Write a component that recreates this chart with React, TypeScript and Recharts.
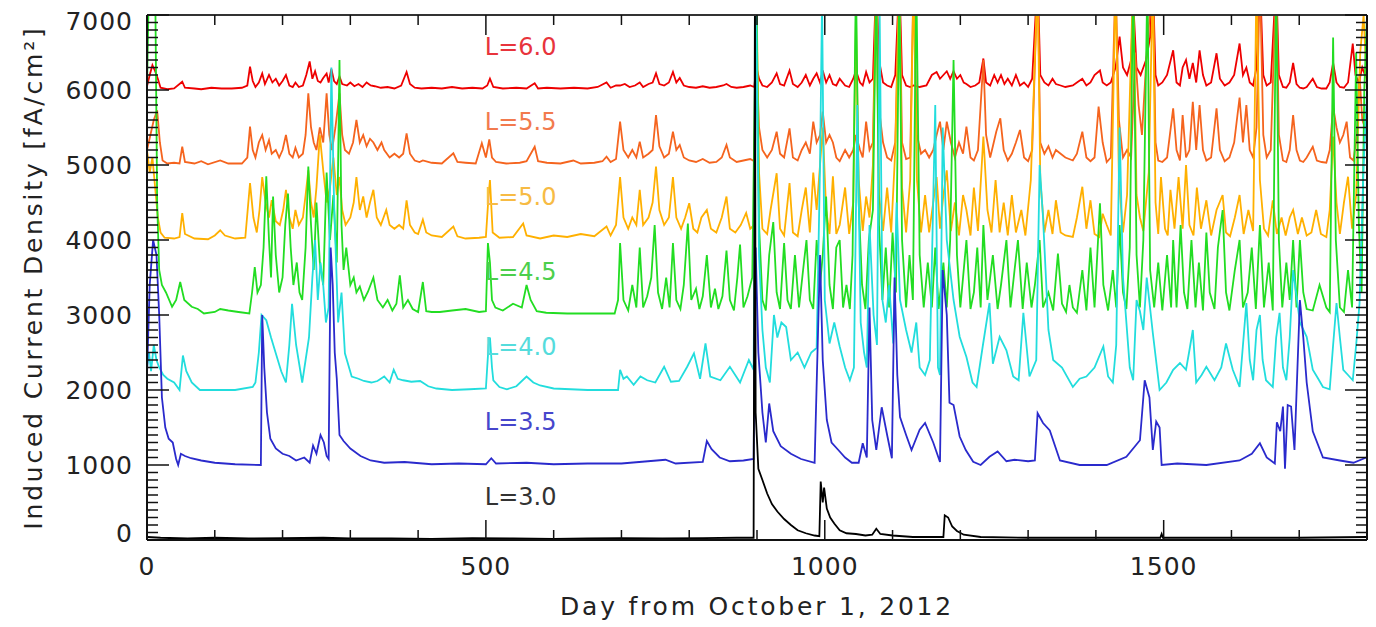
import React from 'react';
import { LineChart, Line, XAxis, YAxis, ReferenceDot, Label } from 'recharts';

// [day, induced current density], one list per L shell (no offset)
const l60: [number, number][] = [[0,50],[4,200],[8,330],[12,250],[16,150],[20,30],[30,10],[40,20],[52,110],[56,30],[70,20],[80,10],[95,30],[110,20],[125,20],[140,30],[148,60],[152,311],[156,120],[160,40],[165,100],[170,220],[174,80],[180,200],[185,100],[190,150],[195,60],[200,120],[205,200],[210,60],[215,40],[219,100],[224,40],[230,60],[235,200],[240,380],[244,150],[248,250],[252,120],[256,100],[260,160],[265,220],[268,100],[272,280],[276,120],[280,80],[284,180],[288,80],[295,60],[300,100],[306,50],[312,80],[318,40],[324,100],[330,60],[336,50],[345,30],[355,40],[365,20],[375,60],[383,240],[388,80],[395,30],[405,20],[420,30],[435,20],[450,40],[465,20],[480,30],[495,20],[502,60],[506,150],[511,40],[525,20],[545,30],[560,20],[572,90],[577,20],[590,30],[610,20],[630,30],[650,20],[665,40],[678,100],[684,30],[692,60],[698,60],[705,80],[712,40],[720,60],[727,100],[732,40],[740,80],[746,100],[751,222],[756,80],[763,60],[770,100],[776,240],[781,100],[786,160],[792,60],[800,40],[810,30],[820,50],[830,30],[840,40],[850,60],[855,80],[862,40],[870,30],[880,40],[890,60],[896,40],[899,311],[903,150],[908,60],[915,40],[922,100],[929,222],[934,80],[940,60],[948,260],[953,80],[960,40],[966,100],[972,200],[978,60],[983,150],[988,222],[993,100],[997,260],[1002,100],[1007,200],[1012,80],[1017,60],[1022,150],[1030,60],[1036,40],[1042,150],[1046,260],[1052,100],[1056,60],[1061,240],[1066,100],[1071,150],[1076,1500],[1080,400],[1086,100],[1092,60],[1098,40],[1104,200],[1110,1500],[1114,200],[1120,60],[1126,40],[1131,60],[1140,40],[1150,60],[1158,200],[1165,240],[1170,150],[1175,200],[1180,250],[1185,150],[1190,250],[1195,150],[1200,200],[1205,100],[1209,80],[1215,40],[1222,60],[1228,100],[1234,420],[1238,100],[1244,60],[1250,200],[1255,100],[1260,200],[1265,80],[1270,150],[1276,60],[1282,200],[1288,60],[1294,100],[1300,40],[1306,150],[1314,1500],[1318,200],[1324,100],[1330,60],[1336,150],[1341,80],[1348,60],[1355,40],[1366,60],[1372,100],[1380,150],[1386,60],[1392,100],[1398,200],[1406,260],[1410,100],[1416,60],[1422,100],[1429,300],[1435,711],[1440,300],[1446,200],[1452,400],[1455,1200],[1460,300],[1466,200],[1474,400],[1480,700],[1484,1500],[1488,200],[1492,60],[1498,100],[1505,200],[1514,530],[1519,100],[1524,60],[1528,300],[1533,400],[1538,150],[1543,360],[1548,100],[1553,530],[1558,200],[1563,60],[1570,100],[1578,490],[1583,150],[1590,60],[1597,100],[1604,200],[1612,620],[1617,200],[1622,300],[1627,100],[1632,60],[1637,300],[1642,1500],[1647,200],[1652,60],[1658,100],[1666,1500],[1670,200],[1676,40],[1681,30],[1686,100],[1691,360],[1696,80],[1701,30],[1706,20],[1711,40],[1720,150],[1726,40],[1733,20],[1740,20],[1745,100],[1750,360],[1755,100],[1760,40],[1766,30],[1772,100],[1779,620],[1783,200],[1788,100],[1793,300],[1797,200],[1800,360]];

const l55: [number, number][] = [[0,200],[5,400],[10,600],[15,730],[19,300],[23,60],[30,20],[40,30],[48,20],[52,244],[56,40],[70,20],[80,50],[90,10],[108,60],[120,20],[140,20],[148,100],[152,511],[156,200],[160,100],[165,300],[170,400],[175,200],[180,330],[184,150],[190,200],[195,100],[200,200],[205,400],[210,150],[215,100],[219,230],[224,100],[230,150],[234,400],[238,956],[242,500],[246,300],[250,200],[255,500],[260,300],[265,956],[269,400],[273,200],[278,500],[284,956],[288,400],[292,200],[298,150],[304,300],[309,600],[314,300],[319,400],[324,250],[329,350],[334,300],[340,200],[346,300],[350,200],[358,100],[365,150],[372,100],[378,150],[383,422],[388,150],[395,60],[402,40],[407,60],[420,30],[435,20],[452,156],[458,40],[470,30],[485,20],[494,290],[500,100],[505,340],[509,100],[515,40],[530,20],[550,30],[560,50],[572,244],[577,50],[590,30],[610,20],[629,60],[640,20],[660,30],[672,50],[678,110],[684,40],[692,80],[698,578],[703,200],[710,100],[716,200],[722,100],[727,311],[732,100],[740,150],[746,200],[751,667],[756,250],[763,100],[770,150],[776,444],[781,200],[786,267],[792,100],[800,60],[810,40],[820,80],[830,30],[840,40],[848,100],[855,267],[860,100],[870,40],[880,60],[890,80],[896,50],[899,1500],[903,500],[908,200],[915,100],[922,200],[929,444],[934,150],[940,100],[948,489],[953,100],[960,60],[966,200],[972,300],[978,150],[983,578],[988,300],[993,400],[997,711],[1002,300],[1007,400],[1012,300],[1017,100],[1022,50],[1030,200],[1036,100],[1042,200],[1046,400],[1052,200],[1056,100],[1061,578],[1066,200],[1071,300],[1076,2500],[1080,756],[1086,300],[1092,100],[1098,60],[1104,300],[1110,2500],[1114,300],[1120,80],[1126,100],[1131,2500],[1136,400],[1142,150],[1148,200],[1154,100],[1160,200],[1165,400],[1170,578],[1175,200],[1180,578],[1186,300],[1192,100],[1198,300],[1204,150],[1209,511],[1215,100],[1220,60],[1226,200],[1234,1400],[1238,400],[1244,100],[1248,250],[1253,444],[1259,622],[1264,200],[1270,60],[1276,150],[1282,300],[1288,467],[1294,100],[1300,50],[1306,200],[1314,2500],[1318,300],[1324,150],[1330,250],[1336,100],[1341,200],[1348,150],[1355,100],[1366,60],[1372,150],[1380,444],[1386,100],[1392,50],[1398,100],[1404,778],[1410,300],[1416,40],[1422,100],[1429,2500],[1434,600],[1440,100],[1446,200],[1452,100],[1458,1500],[1463,800],[1468,400],[1475,1500],[1484,2500],[1488,300],[1492,60],[1498,40],[1505,100],[1514,756],[1519,200],[1524,60],[1528,667],[1533,100],[1538,200],[1543,844],[1548,200],[1553,800],[1558,200],[1563,60],[1570,100],[1578,756],[1583,200],[1590,50],[1597,100],[1604,300],[1612,900],[1617,300],[1622,800],[1627,200],[1632,100],[1637,500],[1642,2500],[1647,400],[1652,100],[1658,200],[1666,2500],[1670,400],[1676,60],[1681,40],[1686,200],[1691,667],[1696,200],[1701,60],[1706,40],[1711,100],[1720,244],[1726,60],[1733,40],[1740,30],[1745,200],[1750,778],[1755,500],[1760,300],[1765,400],[1770,578],[1775,100],[1780,60],[1785,400],[1789,1200],[1793,600],[1797,500],[1800,300]];

const l50: [number, number][] = [[0,1200],[4,900],[8,1100],[12,700],[16,300],[20,100],[26,30],[40,20],[48,40],[52,360],[56,80],[70,20],[90,10],[100,60],[108,130],[115,60],[130,20],[145,30],[152,760],[157,300],[162,100],[166,400],[170,840],[175,500],[180,300],[184,530],[190,250],[196,200],[201,400],[205,670],[210,300],[215,150],[219,400],[224,200],[230,300],[234,600],[238,930],[242,500],[246,300],[250,700],[255,1400],[260,930],[265,500],[270,700],[275,1100],[280,600],[284,840],[288,400],[293,200],[300,300],[305,500],[309,840],[314,400],[319,580],[324,300],[329,500],[334,670],[339,300],[345,200],[353,400],[358,200],[365,150],[372,200],[378,150],[383,530],[388,200],[395,100],[400,80],[407,270],[412,100],[420,60],[435,40],[452,180],[458,50],[470,20],[490,30],[500,40],[504,600],[506,800],[510,100],[520,30],[540,40],[555,220],[560,60],[580,20],[600,60],[620,40],[640,80],[660,50],[678,180],[684,60],[692,200],[698,840],[703,300],[710,150],[716,300],[722,200],[727,670],[732,200],[740,300],[746,500],[751,980],[756,400],[763,200],[770,300],[776,840],[781,300],[788,150],[794,300],[800,490],[806,150],[812,100],[818,300],[826,400],[832,150],[840,100],[848,300],[855,580],[860,150],[868,100],[876,200],[884,360],[890,150],[896,200],[899,3500],[903,900],[908,150],[915,80],[920,400],[929,890],[934,150],[940,60],[948,760],[953,100],[960,50],[966,400],[972,700],[978,100],[983,900],[988,400],[993,1000],[997,1500],[1002,400],[1007,80],[1012,850],[1017,80],[1022,200],[1030,700],[1036,80],[1042,500],[1046,3000],[1050,800],[1056,120],[1061,580],[1066,300],[1071,1000],[1076,3500],[1080,600],[1086,120],[1092,700],[1098,100],[1104,1200],[1110,3500],[1114,700],[1120,100],[1126,800],[1131,3500],[1136,800],[1142,100],[1148,600],[1154,100],[1160,500],[1165,840],[1170,150],[1175,600],[1180,930],[1186,120],[1192,500],[1198,60],[1204,600],[1209,400],[1215,60],[1220,700],[1226,120],[1234,1380],[1240,400],[1246,100],[1252,800],[1258,100],[1264,500],[1270,60],[1276,600],[1282,100],[1290,400],[1296,60],[1304,800],[1314,3500],[1318,800],[1324,100],[1330,400],[1336,80],[1341,530],[1348,100],[1355,60],[1366,40],[1372,300],[1380,710],[1386,150],[1392,530],[1398,80],[1405,40],[1410,350],[1416,200],[1422,60],[1429,3500],[1434,800],[1440,100],[1446,600],[1455,3500],[1460,600],[1465,300],[1470,120],[1478,900],[1484,3500],[1488,500],[1492,80],[1496,840],[1502,150],[1506,60],[1510,670],[1516,150],[1522,840],[1528,150],[1533,1000],[1538,200],[1544,60],[1549,700],[1555,150],[1563,530],[1570,60],[1578,400],[1587,600],[1592,100],[1598,50],[1605,300],[1612,600],[1618,80],[1625,400],[1632,120],[1637,3500],[1642,800],[1648,150],[1654,60],[1661,530],[1667,80],[1674,300],[1680,60],[1686,300],[1691,400],[1698,80],[1704,300],[1711,60],[1718,100],[1725,400],[1732,80],[1740,40],[1745,400],[1750,1380],[1755,500],[1760,80],[1766,500],[1772,844],[1778,150],[1784,600],[1790,2500],[1795,3000],[1800,2000]];

const l45: [number, number][] = [[0,3000],[3,4500],[12,4500],[15,1500],[18,600],[22,400],[28,300],[37,110],[43,200],[49,440],[55,200],[66,110],[75,80],[84,20],[100,40],[108,80],[120,60],[135,40],[151,20],[155,300],[159,640],[163,300],[168,400],[172,900],[176,1850],[180,1000],[183,500],[186,1580],[190,800],[195,300],[200,500],[204,1200],[208,1620],[212,900],[216,400],[221,700],[225,300],[229,200],[234,900],[238,1980],[242,1200],[246,600],[250,1500],[255,700],[260,400],[265,1900],[270,1000],[275,1600],[280,700],[284,3400],[287,1200],[290,600],[294,900],[300,400],[305,500],[309,300],[314,380],[320,200],[326,310],[334,500],[340,200],[348,100],[355,200],[362,60],[368,150],[373,530],[378,100],[385,200],[392,80],[400,40],[407,440],[412,50],[420,40],[432,40],[450,60],[470,80],[490,40],[500,50],[503,960],[506,700],[509,200],[514,100],[525,60],[540,150],[553,100],[560,400],[566,200],[575,50],[589,30],[620,20],[660,20],[690,20],[695,200],[698,960],[703,200],[710,60],[716,400],[722,100],[727,900],[732,100],[738,250],[744,500],[749,1200],[754,300],[760,80],[766,500],[771,100],[776,960],[781,200],[787,80],[792,400],[798,1220],[803,200],[810,350],[815,80],[820,250],[826,800],[832,100],[838,350],[843,80],[849,250],[855,860],[860,200],[866,60],[871,500],[875,940],[880,100],[886,250],[893,500],[899,4500],[903,1200],[908,200],[913,60],[918,800],[924,1240],[929,300],[934,80],[940,960],[945,200],[950,80],[956,800],[962,100],[968,600],[973,1000],[978,200],[983,80],[988,1000],[993,400],[997,800],[1002,1580],[1007,400],[1012,80],[1017,900],[1022,1000],[1027,100],[1032,400],[1037,80],[1041,800],[1046,4500],[1050,1500],[1055,400],[1060,80],[1065,1000],[1071,1400],[1076,4500],[1080,1200],[1085,200],[1090,900],[1095,100],[1100,1100],[1105,300],[1110,4500],[1114,1000],[1120,100],[1125,800],[1130,200],[1135,4500],[1140,800],[1146,100],[1152,700],[1158,100],[1163,900],[1168,80],[1175,700],[1180,100],[1185,1000],[1190,3400],[1195,800],[1200,100],[1205,600],[1209,1000],[1215,80],[1220,300],[1225,900],[1230,100],[1234,1200],[1240,200],[1248,800],[1255,80],[1260,400],[1268,1000],[1274,100],[1280,600],[1285,1000],[1292,80],[1298,700],[1305,100],[1310,400],[1317,1000],[1322,100],[1330,300],[1337,60],[1344,820],[1350,150],[1356,40],[1361,400],[1366,100],[1372,30],[1380,600],[1386,60],[1392,900],[1398,100],[1406,1490],[1411,400],[1418,60],[1425,600],[1430,100],[1435,1200],[1440,300],[1445,80],[1450,900],[1455,4500],[1460,800],[1465,100],[1470,1000],[1476,4500],[1480,600],[1486,100],[1492,700],[1498,60],[1505,800],[1511,100],[1514,1000],[1519,100],[1525,1200],[1530,300],[1535,80],[1541,1000],[1547,100],[1552,700],[1558,60],[1563,1100],[1568,300],[1575,80],[1580,900],[1587,1400],[1592,300],[1597,60],[1605,600],[1612,1000],[1617,100],[1624,300],[1630,900],[1636,80],[1642,1200],[1648,100],[1655,700],[1661,60],[1666,4500],[1670,1000],[1675,100],[1681,700],[1686,200],[1691,1000],[1696,100],[1701,1000],[1706,300],[1711,80],[1720,60],[1730,400],[1740,100],[1745,40],[1750,3700],[1754,1000],[1760,100],[1766,40],[1772,600],[1778,100],[1784,3500],[1788,1200],[1792,300],[1796,3000],[1800,4000]];

const l40: [number, number][] = [[0,300],[3,500],[6,250],[10,600],[14,400],[18,300],[24,200],[30,150],[40,100],[48,0],[53,460],[58,250],[66,100],[78,0],[100,0],[130,0],[156,40],[160,100],[165,500],[169,1000],[176,930],[183,700],[190,490],[198,250],[205,100],[210,600],[214,1150],[220,600],[229,100],[234,400],[239,700],[244,1500],[248,2000],[252,1200],[256,1700],[260,1400],[264,900],[268,1100],[272,4300],[276,2500],[282,900],[287,1300],[292,490],[302,180],[312,150],[320,120],[331,100],[340,120],[350,180],[358,100],[364,270],[370,150],[378,130],[390,110],[403,120],[415,50],[427,20],[450,0],[476,10],[500,20],[504,600],[506,700],[509,300],[511,130],[520,40],[531,10],[545,50],[560,180],[570,100],[580,60],[600,20],[650,0],[695,0],[698,270],[703,150],[708,180],[718,70],[728,180],[738,130],[750,100],[763,310],[773,110],[785,120],[797,310],[807,490],[816,150],[824,620],[831,180],[846,130],[860,310],[875,100],[888,400],[895,270],[899,5000],[903,1800],[908,800],[913,300],[919,100],[925,1000],[930,700],[936,900],[943,840],[950,400],[960,500],[970,300],[980,500],[988,560],[993,3000],[996,5200],[1000,1200],[1007,620],[1014,900],[1022,580],[1030,300],[1037,130],[1043,300],[1048,3800],[1053,900],[1058,500],[1062,300],[1066,2200],[1072,1000],[1077,600],[1081,5000],[1085,1200],[1090,900],[1095,1400],[1101,620],[1106,2500],[1111,1200],[1120,800],[1128,500],[1135,900],[1140,300],[1148,200],[1155,400],[1163,3800],[1167,300],[1170,200],[1174,3500],[1180,2000],[1190,1200],[1199,710],[1209,440],[1218,100],[1224,40],[1233,580],[1243,1160],[1248,350],[1258,710],[1268,530],[1278,180],[1286,130],[1293,1030],[1302,180],[1312,400],[1317,3000],[1322,2300],[1330,800],[1337,400],[1350,300],[1366,40],[1376,150],[1386,180],[1398,300],[1411,580],[1418,180],[1425,100],[1430,600],[1435,3500],[1440,1500],[1445,900],[1450,300],[1455,130],[1460,1200],[1465,1050],[1470,800],[1475,1500],[1484,760],[1494,0],[1504,100],[1514,270],[1524,360],[1533,270],[1538,530],[1543,800],[1548,100],[1556,200],[1563,310],[1575,130],[1585,300],[1592,620],[1602,270],[1612,40],[1617,600],[1622,1160],[1627,400],[1632,130],[1637,800],[1642,1000],[1646,400],[1651,130],[1661,40],[1666,700],[1671,1030],[1676,300],[1681,130],[1686,700],[1691,1600],[1701,900],[1711,710],[1720,270],[1728,150],[1735,40],[1745,10],[1750,600],[1755,1160],[1760,700],[1765,270],[1772,200],[1779,130],[1784,600],[1789,1160],[1795,3000],[1800,4000]];

const l35: [number, number][] = [[0,1200],[4,2400],[9,3000],[14,2800],[18,2000],[22,900],[27,500],[32,350],[38,300],[43,80],[46,0],[50,150],[56,120],[65,90],[80,60],[100,30],[130,10],[168,0],[170,2000],[173,1300],[177,700],[182,350],[190,220],[200,150],[210,120],[220,60],[232,100],[240,30],[245,260],[250,150],[256,400],[261,300],[265,120],[268,80],[271,2900],[274,2400],[277,1500],[280,1150],[284,400],[290,320],[300,220],[315,120],[330,60],[350,30],[380,40],[420,10],[460,20],[500,10],[508,90],[515,20],[560,30],[600,10],[650,20],[700,20],[765,70],[780,20],[820,40],[826,320],[833,210],[845,100],[860,50],[880,60],[895,80],[898,2900],[902,1500],[908,700],[913,300],[918,820],[924,450],[935,250],[950,150],[965,80],[985,30],[993,2800],[997,1400],[1003,600],[1010,300],[1020,200],[1030,100],[1040,30],[1050,30],[1056,290],[1062,100],[1066,2100],[1070,600],[1076,200],[1084,770],[1092,400],[1099,90],[1103,2500],[1107,1200],[1111,640],[1120,400],[1128,200],[1140,470],[1148,560],[1160,300],[1170,40],[1174,2600],[1180,2000],[1184,830],[1190,800],[1199,380],[1208,200],[1219,44],[1230,0],[1243,110],[1255,180],[1268,50],[1280,70],[1300,50],[1310,60],[1314,690],[1322,560],[1332,460],[1347,60],[1376,0],[1416,0],[1445,110],[1465,330],[1472,1130],[1479,900],[1484,200],[1489,580],[1494,500],[1497,0],[1520,20],[1563,0],[1612,60],[1630,150],[1642,290],[1652,100],[1664,20],[1667,570],[1672,450],[1676,780],[1679,-50],[1683,800],[1688,780],[1693,200],[1701,2200],[1706,1700],[1711,1100],[1720,450],[1735,100],[1760,60],[1780,30],[1799,100]];

const l30: [number, number][] = [[0,40],[20,30],[60,20],[100,30],[150,20],[200,25],[260,30],[300,20],[360,20],[420,15],[480,25],[540,20],[600,15],[650,20],[700,25],[760,20],[820,25],[870,30],[895,30],[897,7500],[898,1700],[902,950],[908,800],[915,620],[922,480],[930,380],[940,280],[950,200],[960,130],[972,90],[985,60],[992,50],[994,780],[997,500],[999,700],[1003,420],[1008,300],[1014,220],[1022,130],[1032,90],[1046,80],[1060,60],[1070,70],[1076,150],[1082,80],[1100,60],[1130,40],[1160,40],[1175,40],[1177,330],[1182,300],[1188,180],[1195,120],[1205,70],[1230,40],[1300,30],[1400,30],[1495,30],[1497,80],[1499,30],[1600,30],[1700,30],[1800,40]];

const seriesNames = ['L=6.0', 'L=5.5', 'L=5.0', 'L=4.5', 'L=4.0', 'L=3.5', 'L=3.0'];
const seriesOffsets = [6000, 5000, 4000, 3000, 2000, 1000, 0];
const seriesPoints = [l60, l55, l50, l45, l40, l35, l30];
const lineColors = ['#ee0000', '#f5641e', '#ffb000', '#22dd22', '#22dddd', '#2a2acc', '#000000'];
const labelColors = ['#e8343c', '#f27a4e', '#f7bb44', '#4ccf4c', '#55dcdc', '#4646cc', '#333333'];

const xMajorTicks = [0, 500, 1000, 1500];
const yMajorTicks = [0, 1000, 2000, 3000, 4000, 5000, 6000, 7000];
const xTicks = Array.from({ length: 19 }, (_, i) => i * 100);
const yTicks = Array.from({ length: 71 }, (_, i) => i * 100);

const FONT = 'DejaVu Sans';

const series = seriesNames.map((name, i) => ({
  name,
  color: lineColors[i],
  labelColor: labelColors[i],
  offset: seriesOffsets[i],
  data: seriesPoints[i].map(([day, v]) => ({ day, v: v + seriesOffsets[i] })),
}));

const XTick = (props: any) => {
  const { x, y, payload, side } = props;
  const v = payload.value;
  const major = xMajorTicks.includes(v);
  const len = major ? 20 : 10;
  const dir = side === 'bottom' ? -1 : 1;
  return (
    <g>
      <line x1={x} y1={y} x2={x} y2={y + dir * len} stroke="#111" strokeWidth={1.5} />
      {side === 'bottom' && major && (
        <text x={x} y={y + 35} textAnchor="middle" fontSize={25} letterSpacing={1} fill="#222" fontFamily={FONT}>
          {v}
        </text>
      )}
    </g>
  );
};

const YTick = (props: any) => {
  const { x, y, payload, side } = props;
  const v = payload.value;
  const major = yMajorTicks.includes(v);
  const len = major ? 22 : 11;
  const dir = side === 'left' ? 1 : -1;
  let ly = y;
  if (v === 0) ly -= 7;
  if (v === 7000) ly += 6;
  return (
    <g>
      <line x1={x} y1={y} x2={x + dir * len} y2={y} stroke="#111" strokeWidth={1.5} />
      {side === 'left' && major && (
        <text x={x - 14} y={ly + 9} textAnchor="end" fontSize={25} letterSpacing={1} fill="#222" fontFamily={FONT}>
          {v}
        </text>
      )}
    </g>
  );
};

export default function App() {
  return (
    <div style={{ position: 'absolute', left: 0, top: 0, background: '#fff', fontFamily: FONT }}>
      <LineChart width={1376} height={627} margin={{ top: 14, right: 8, left: 0, bottom: 0 }}>
        <XAxis
          dataKey="day"
          type="number"
          domain={[0, 1800]}
          allowDataOverflow
          ticks={xTicks}
          interval={0}
          height={87}
          tickSize={0}
          tickMargin={0}
          tickLine={false}
          axisLine={{ stroke: '#111', strokeWidth: 2 }}
          tick={<XTick side="bottom" />}
        >
          <Label
            content={(p: any) => {
              const vb = p.viewBox;
              return (
                <text x={vb.x + vb.width / 2} y={615} textAnchor="middle" fontSize={25} letterSpacing={2.8} fill="#222" fontFamily={FONT}>
                  Day from October 1, 2012
                </text>
              );
            }}
          />
        </XAxis>
        <XAxis
          xAxisId="top"
          dataKey="day"
          type="number"
          orientation="top"
          domain={[0, 1800]}
          allowDataOverflow
          ticks={xTicks}
          interval={0}
          height={1}
          tickSize={0}
          tickMargin={0}
          tickLine={false}
          axisLine={{ stroke: '#333', strokeWidth: 2 }}
          tick={<XTick side="top" />}
        />
        <YAxis
          type="number"
          domain={[0, 7000]}
          allowDataOverflow
          ticks={yTicks}
          interval={0}
          width={147}
          tickSize={0}
          tickMargin={0}
          tickLine={false}
          axisLine={{ stroke: '#111', strokeWidth: 2 }}
          tick={<YTick side="left" />}
        >
          <Label
            content={(p: any) => {
              const vb = p.viewBox;
              const cx = 33;
              const cy = vb.y + vb.height / 2;
              return (
                <text x={cx} y={cy} transform={`rotate(-90 ${cx} ${cy})`} textAnchor="middle" dominantBaseline="central" fontSize={25} letterSpacing={2.8} fill="#222" fontFamily={FONT}>
                  Induced Current Density [fA/cm²]
                </text>
              );
            }}
          />
        </YAxis>
        <YAxis
          yAxisId="right"
          type="number"
          orientation="right"
          domain={[0, 7000]}
          allowDataOverflow
          ticks={yTicks}
          interval={0}
          width={1}
          tickSize={0}
          tickMargin={0}
          tickLine={false}
          axisLine={{ stroke: '#111', strokeWidth: 2 }}
          tick={<YTick side="right" />}
        />
        {series.map((s) => (
          <Line
            key={s.name}
            data={s.data}
            dataKey="v"
            type="linear"
            stroke={s.color}
            strokeWidth={1.8}
            dot={false}
            activeDot={false}
            isAnimationActive={false}
          />
        ))}
        {series.map((s) => (
          <ReferenceDot
            key={'lab' + s.name}
            x={491}
            y={s.offset + 580}
            r={0}
            fill="none"
            stroke="none"
            label={{ value: s.name, position: 'right', fill: s.labelColor, fontSize: 24, fontFamily: FONT }}
          />
        ))}
      </LineChart>
    </div>
  );
}
